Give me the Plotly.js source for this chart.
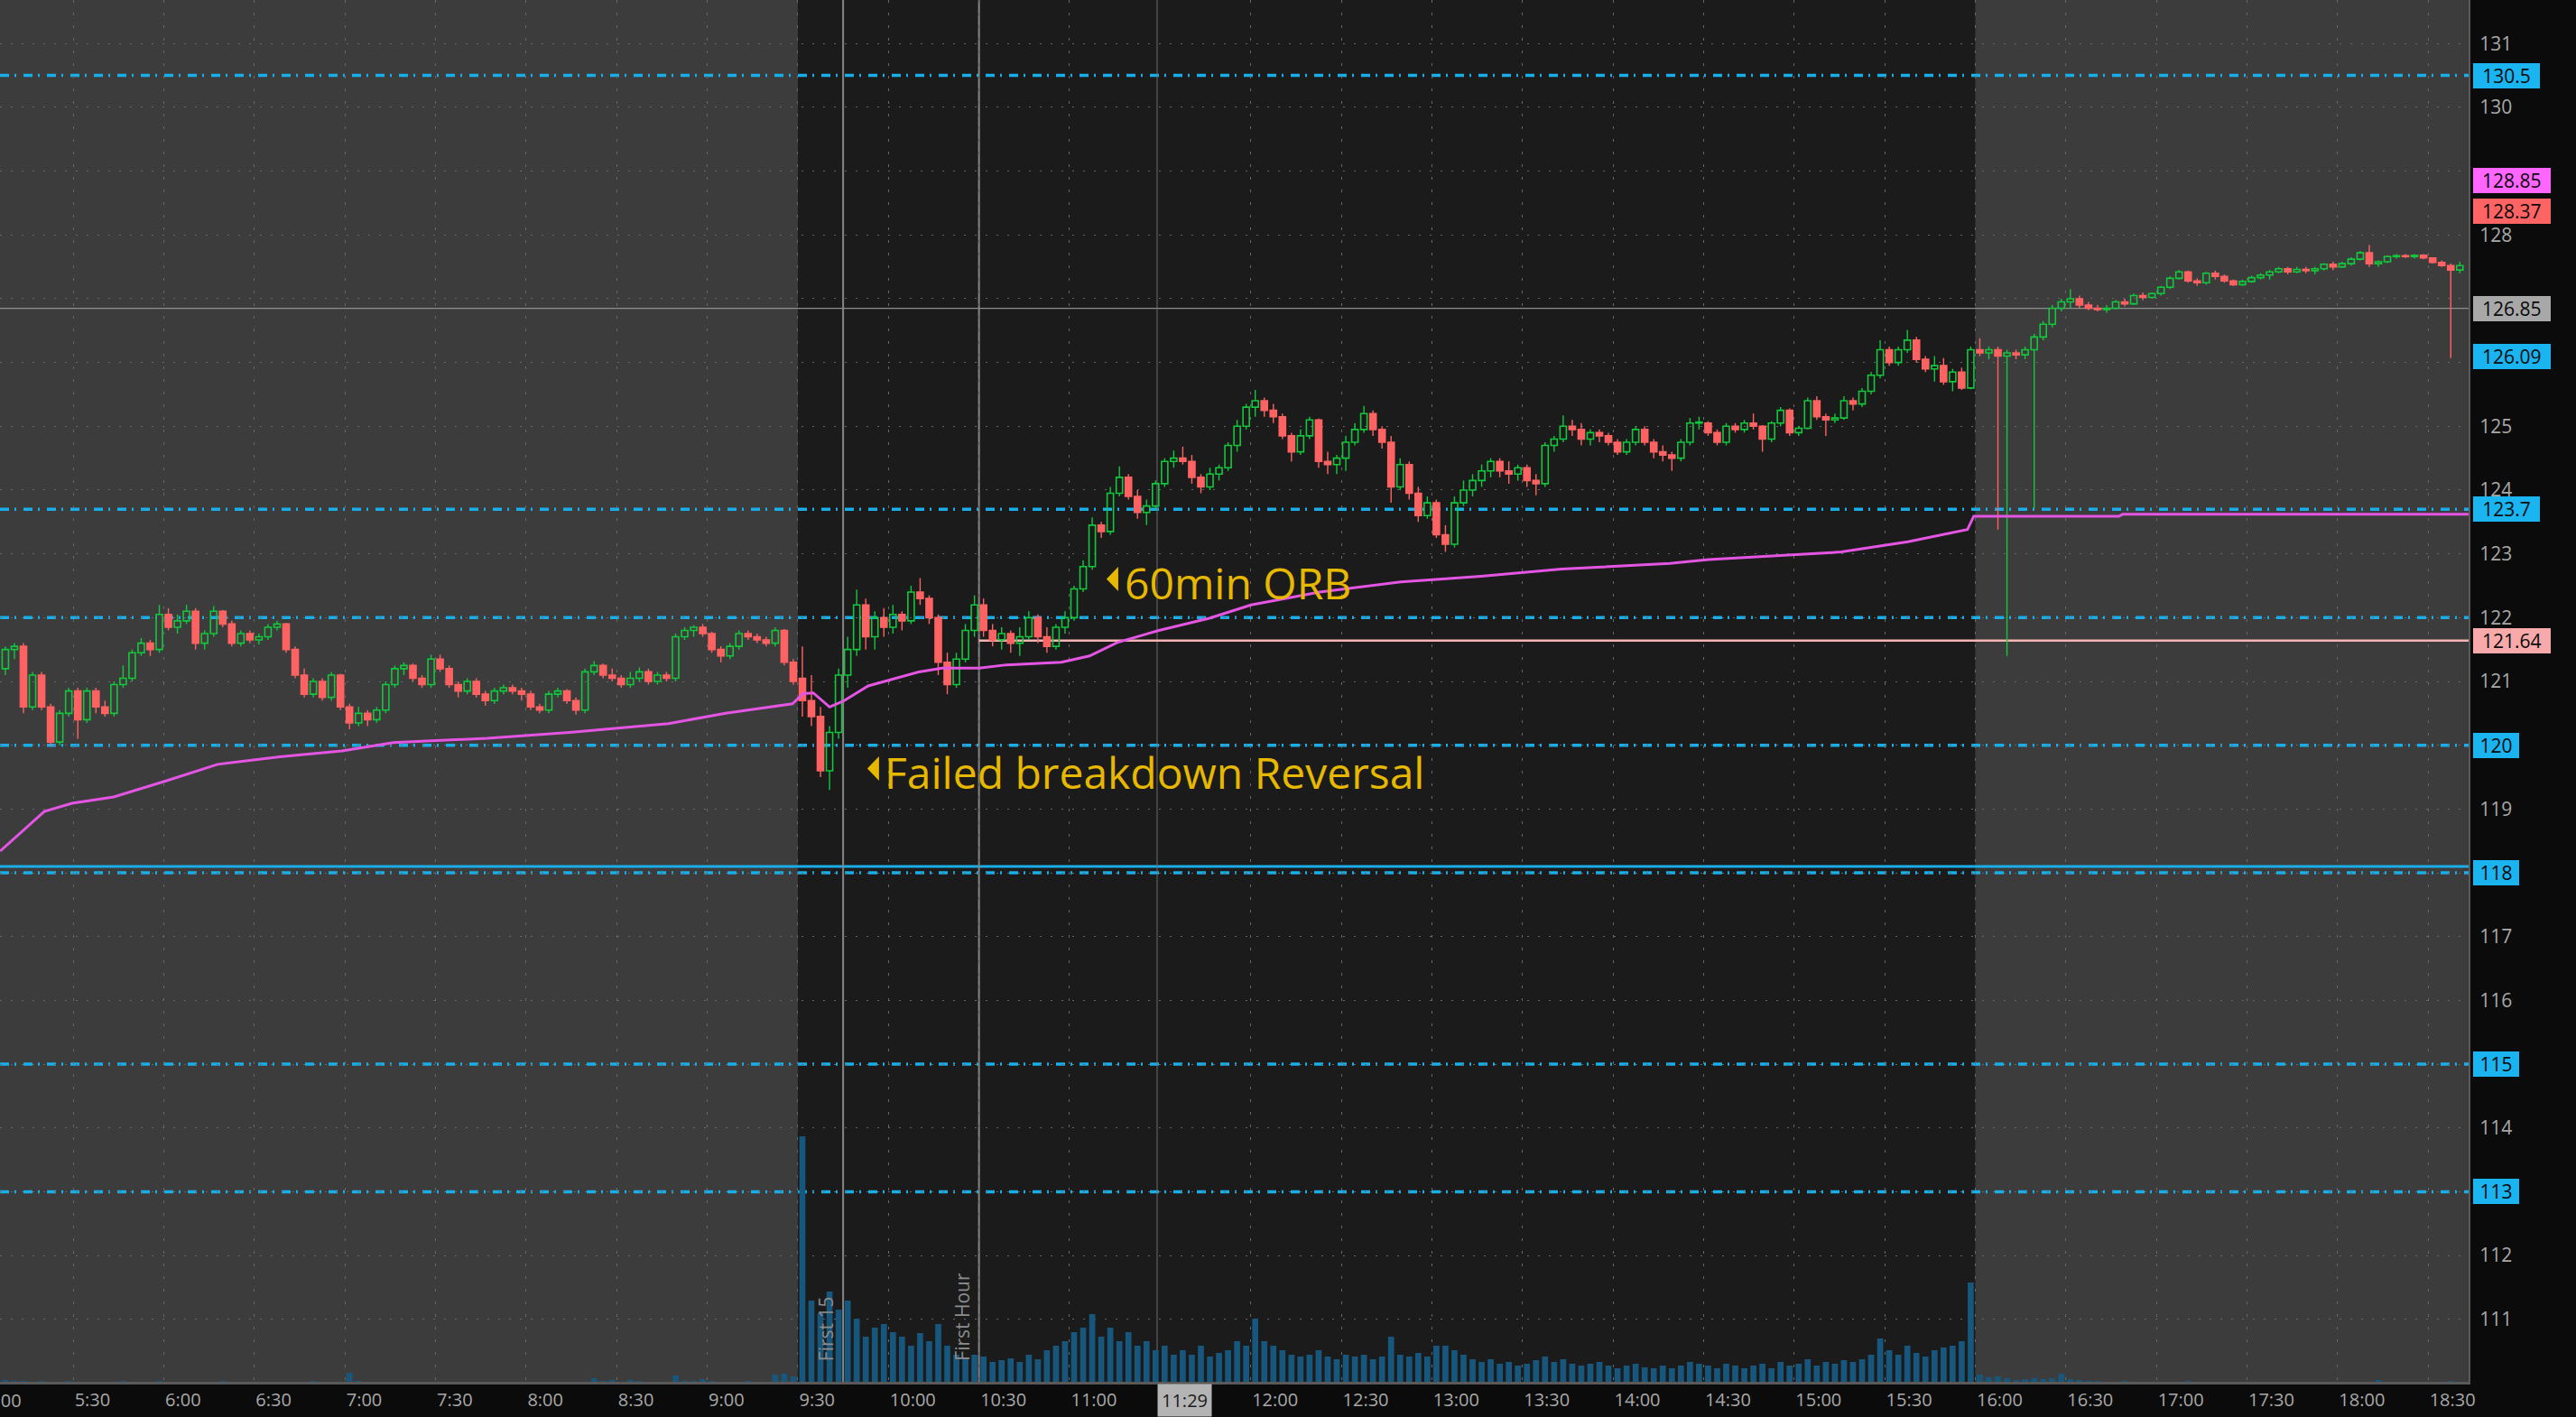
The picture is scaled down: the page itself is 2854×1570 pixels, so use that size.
<!DOCTYPE html>
<html><head><meta charset="utf-8">
<script src="https://cdn.plot.ly/plotly-3.0.1.min.js"></script>
<style>html,body{margin:0;padding:0;background:#0b0b0b;overflow:hidden}#chart{width:2854px;height:1570px}</style>
</head><body><div id="chart"></div>
<script>
// ---------- DATA (3-minute bars, times in minutes after midnight) ----------
const candleStart = 306;
const candleStep = 3;
const open = [
121.2,121.5,121.55,120.6,121.1,120.6,120.05,120.5,120.85,120.4,
120.85,120.6,120.5,120.95,121.05,121.45,121.6,121.5,122.05,121.85,
121.95,122.1,121.6,121.75,122.1,121.9,121.6,121.75,121.65,121.7,
121.85,121.9,121.5,121.1,120.8,121.0,120.75,121.1,120.6,120.35,
120.5,120.4,120.55,120.95,121.2,121.25,121.05,120.95,121.35,121.2,
120.95,120.85,121.0,120.8,120.7,120.85,120.9,120.85,120.8,120.6,
120.55,120.8,120.85,120.7,120.55,121.15,121.25,121.1,121.05,120.95,
121.05,121.15,121.0,121.1,121.05,121.7,121.8,121.85,121.75,121.5,
121.4,121.55,121.75,121.7,121.65,121.6,121.8,121.3,
121.05,120.7,120.45,119.6,120.2,121.1,121.5,122.2,121.7,122.0,
121.85,122.05,121.95,122.4,122.3,122.0,121.3,120.95,121.35,121.8,
122.2,121.8,121.65,121.75,121.6,121.7,122.0,121.7,121.55,121.85,
122.0,122.45,
122.8,123.45,123.35,123.95,124.2,123.9,123.65,123.75,124.1,124.45,
124.5,124.45,124.2,124.05,124.25,124.35,124.7,125.0,125.3,125.4,
125.25,125.15,124.85,124.6,124.85,125.1,124.45,124.4,124.5,124.75,
124.95,125.2,124.95,124.75,124.05,124.4,123.95,123.6,123.8,123.3,
123.15,123.8,124.0,124.15,124.3,124.45,124.3,124.25,124.35,124.15,
124.1,124.7,124.8,125.0,124.95,124.8,124.9,124.85,124.75,124.6,
124.75,124.95,124.75,124.6,
124.55,124.5,124.75,125.05,125.05,124.9,124.75,125.0,124.95,125.05,
125.0,124.8,125.05,125.25,124.9,124.97,125.4,125.15,125.1,125.13,
125.4,125.35,125.55,125.8,126.2,126.0,126.2,126.35,126.05,125.9,
125.95,125.7,125.85,125.6,
126.2,126.15,126.2,126.1,126.15,126.12,126.2,126.4,126.6,126.85,
126.95,127.0,126.9,126.85,126.83,126.85,126.95,126.92,127.05,127.02,
127.08,127.18,127.32,127.42,127.28,127.25,127.4,127.35,127.28,127.22,
127.27,127.33,127.37,127.42,127.47,127.42,127.46,127.44,127.47,127.54,
127.5,127.55,127.62,127.72,127.55,127.58,127.66,127.67,127.66,127.68,
127.64,127.57,127.52,127.45];
const high = [
121.55,121.6,121.6,121.15,121.15,120.65,120.55,120.9,120.9,120.9,
120.9,120.7,121.0,121.25,121.5,121.68,121.65,122.2,122.15,122.05,
122.2,122.15,121.8,122.18,122.12,121.95,121.8,121.8,121.75,121.9,
121.95,121.92,121.55,121.2,121.05,121.05,121.15,121.12,120.65,120.6,
120.55,120.6,121.0,121.25,121.3,121.28,121.1,121.42,121.42,121.25,
121.0,121.05,121.05,120.85,120.9,120.95,120.95,120.9,120.85,120.65,
120.85,120.9,120.88,120.75,121.2,121.32,121.28,121.2,121.1,121.15,
121.22,121.2,121.15,121.15,121.75,121.85,121.88,121.9,121.78,121.55,
121.6,121.8,121.8,121.75,121.7,121.85,121.82,121.35,
121.55,121.1,120.6,120.3,121.2,121.7,122.44,122.3,122.1,122.15,
122.2,122.1,122.5,122.62,122.35,122.05,121.45,121.45,121.9,122.35,
122.3,121.9,121.85,121.8,121.85,122.1,122.05,121.85,121.9,122.1,
122.5,122.9,
123.57,123.5,124.05,124.37,124.25,124.0,123.85,124.15,124.5,124.62,
124.68,124.55,124.25,124.35,124.4,124.75,125.1,125.35,125.57,125.45,
125.35,125.2,124.9,124.95,125.15,125.12,124.6,124.55,124.85,125.05,
125.32,125.25,125.0,124.85,124.5,124.45,124.05,123.9,123.85,123.45,
123.9,124.15,124.25,124.4,124.5,124.5,124.45,124.4,124.4,124.25,
124.75,124.85,125.17,125.1,125.05,124.95,124.95,124.9,124.8,124.8,
125.0,125.0,124.8,124.7,
124.6,124.8,125.13,125.15,125.08,124.95,125.05,125.05,125.1,125.2,
125.02,125.08,125.3,125.28,125.0,125.45,125.47,125.2,125.2,125.47,
125.45,125.6,125.85,126.35,126.25,126.25,126.51,126.4,126.1,126.1,
126.07,125.9,125.92,126.25,
126.38,126.25,126.25,126.2,126.2,126.25,126.45,126.65,126.9,127.0,
127.15,127.05,126.95,126.9,126.9,126.98,127.0,127.08,127.1,127.1,
127.2,127.35,127.45,127.44,127.32,127.42,127.44,127.38,127.3,127.3,
127.36,127.4,127.45,127.5,127.5,127.5,127.5,127.5,127.56,127.58,
127.58,127.65,127.75,127.84,127.6,127.68,127.7,127.7,127.7,127.7,
127.65,127.6,127.55,127.58];
const low = [
121.1,121.35,120.5,120.55,120.55,119.99,120.0,120.45,120.1,120.35,
120.5,120.45,120.45,120.9,121.0,121.4,121.4,121.45,121.8,121.75,
121.9,121.5,121.5,121.7,121.85,121.55,121.55,121.6,121.58,121.65,
121.8,121.45,121.05,120.75,120.75,120.7,120.7,120.55,120.25,120.3,
120.3,120.35,120.5,120.9,121.1,121.0,120.9,120.9,121.15,120.9,
120.75,120.8,120.75,120.62,120.65,120.8,120.8,120.7,120.55,120.5,
120.5,120.75,120.65,120.48,120.5,121.1,121.05,121.0,120.9,120.9,
121.0,120.95,120.95,121.0,121.0,121.65,121.7,121.7,121.45,121.3,
121.35,121.5,121.65,121.6,121.55,121.55,121.25,120.95,
120.45,120.3,119.5,119.3,120.1,120.9,121.4,121.5,121.5,121.7,
121.75,121.8,121.9,122.2,121.9,121.1,120.8,120.9,121.3,121.7,
121.7,121.55,121.5,121.45,121.4,121.65,121.6,121.45,121.5,121.75,
121.95,122.4,
122.75,123.25,123.3,123.9,123.85,123.55,123.45,123.7,124.05,124.35,
124.4,124.1,123.95,124.0,124.15,124.3,124.6,124.95,125.15,125.15,
125.05,124.8,124.45,124.55,124.8,124.35,124.25,124.25,124.3,124.7,
124.9,124.85,124.65,123.8,124.0,123.85,123.5,123.55,123.25,123.03,
123.1,123.75,123.9,124.05,124.2,124.2,124.1,124.15,124.05,123.92,
124.05,124.6,124.75,124.85,124.7,124.7,124.75,124.7,124.55,124.55,
124.7,124.7,124.5,124.45,
124.3,124.45,124.7,124.95,124.85,124.7,124.7,124.9,124.9,124.95,
124.6,124.75,125.0,124.85,124.85,124.95,125.1,124.85,125.05,125.1,
125.25,125.3,125.5,125.75,125.95,125.95,126.15,126.0,125.85,125.7,
125.65,125.55,125.57,125.58,
126.1,126.05,123.38,121.4,126.05,126.05,123.71,126.35,126.55,126.8,
126.85,126.85,126.82,126.8,126.78,126.83,126.88,126.9,126.98,127.0,
127.05,127.15,127.3,127.25,127.2,127.22,127.3,127.25,127.2,127.2,
127.25,127.3,127.3,127.4,127.38,127.4,127.4,127.38,127.44,127.45,
127.48,127.52,127.6,127.5,127.5,127.56,127.63,127.64,127.63,127.62,
127.55,127.5,126.07,127.4];
const close = [
121.5,121.55,120.6,121.1,120.6,120.05,120.5,120.85,120.4,120.85,
120.6,120.5,120.95,121.05,121.45,121.6,121.5,122.05,121.85,121.95,
122.1,121.6,121.75,122.1,121.9,121.6,121.75,121.65,121.7,121.85,
121.9,121.5,121.1,120.8,121.0,120.75,121.1,120.6,120.35,120.5,
120.4,120.55,120.95,121.2,121.25,121.05,120.95,121.35,121.2,120.95,
120.85,121.0,120.8,120.7,120.85,120.9,120.85,120.8,120.6,120.55,
120.8,120.85,120.7,120.55,121.15,121.25,121.1,121.05,120.95,121.05,
121.15,121.0,121.1,121.05,121.7,121.8,121.85,121.75,121.5,121.4,
121.55,121.75,121.7,121.65,121.6,121.8,121.3,121.0,
120.7,120.45,119.6,120.2,121.1,121.5,122.2,121.7,122.0,121.85,
122.05,121.95,122.4,122.3,122.0,121.3,120.95,121.35,121.8,122.2,
121.8,121.65,121.75,121.6,121.7,122.0,121.7,121.55,121.85,122.0,
122.45,122.8,
123.45,123.35,123.95,124.2,123.9,123.65,123.75,124.1,124.45,124.5,
124.45,124.2,124.05,124.25,124.35,124.7,125.0,125.3,125.4,125.25,
125.15,124.85,124.6,124.85,125.1,124.45,124.4,124.5,124.75,124.95,
125.2,124.95,124.75,124.05,124.4,123.95,123.6,123.8,123.3,123.15,
123.8,124.0,124.15,124.3,124.45,124.3,124.25,124.35,124.15,124.1,
124.7,124.8,125.0,124.95,124.8,124.9,124.85,124.75,124.6,124.75,
124.95,124.75,124.6,124.55,
124.5,124.75,125.05,125.05,124.9,124.75,125.0,124.95,125.05,125.0,
124.8,125.05,125.25,124.9,124.97,125.4,125.15,125.1,125.13,125.4,
125.35,125.55,125.8,126.2,126.0,126.2,126.35,126.05,125.9,125.95,
125.7,125.85,125.6,126.2,
126.15,126.2,126.1,126.15,126.12,126.2,126.4,126.6,126.85,126.95,
127.0,126.9,126.85,126.83,126.85,126.95,126.92,127.05,127.02,127.08,
127.18,127.32,127.42,127.28,127.25,127.4,127.35,127.28,127.22,127.27,
127.33,127.37,127.42,127.47,127.42,127.46,127.44,127.47,127.54,127.5,
127.55,127.62,127.72,127.55,127.58,127.66,127.67,127.66,127.68,127.64,
127.57,127.52,127.45,127.52];
const volume = [
2,1,1,0,1,0,0,1,0,0, 0,0,0,1,0,0,0,1,0,0, 0,0,0,0,1,0,0,0,0,0,
0,0,0,0,1,0,0,0,10,1, 0,0,0,0,0,0,0,0,0,0, 0,0,0,0,0,0,0,0,0,0,
0,0,0,0,0,4,1,2,0,2, 1,0,0,0,7,1,1,3,1,0, 0,0,1,0,0,8,9,6,
272,90,76,100,80,90,70,50,60,64, 55,50,40,54,45,64,40,30,26,30,
28,22,24,26,22,30,25,35,40,45, 55,60,
75,50,60,45,55,40,45,35,40,30, 35,30,40,28,32,35,45,40,70,45,
40,35,30,28,30,35,28,25,30,28, 30,25,28,50,30,28,32,28,40,40,
35,30,25,22,25,20,22,18,20,24, 28,22,25,20,18,20,22,18,15,18,
20,16,15,18,
15,18,22,20,18,15,20,18,15,18, 20,15,22,18,20,25,18,22,20,24,
22,25,30,48,35,30,40,32,28,35, 38,40,45,110,
8,5,6,4,2,3,4,3,4,9, 3,2,1,1,0,0,1,0,0,0, 0,0,0,1,0,0,0,0,0,0,
0,0,0,0,0,0,0,0,0,0, 0,0,0,0,2,0,0,0,0,0, 0,0,1,0];
const vwapTime = [305.8,320.4,329.6,343.4,360.7,377.8,398.4,419,436.1,467.2,494.4,527.2,546.1,568.2,
  571.8,575.1,580.5,585,593.3,610.1,617.8,630.1,639.1,657.3,666.6,675.8,689.6,706.3,720.1,742.8,
  769.7,796.3,822.9,858.8,871.6,915.6,937.7,957.4,959.5,1007.6,1008.8,1123.4];
const vwapValue = [118.34,118.96,119.09,119.19,119.44,119.70,119.82,119.91,120.04,120.11,120.20,120.34,120.50,120.65,
  120.81,120.82,120.60,120.69,120.93,121.15,121.21,121.21,121.26,121.30,121.40,121.61,121.80,121.99,122.20,122.40,
  122.56,122.65,122.76,122.85,122.91,123.03,123.19,123.38,123.59,123.59,123.62,123.62];
const timeLabels = ['5:30','6:00','6:30','7:00','7:30','8:00','8:30','9:00','9:30','10:00','10:30','11:00',
  '12:00','12:30','13:00','13:30','14:00','14:30','15:00','15:30','16:00','16:30','17:00','17:30','18:00','18:30'];
const priceTicks = [111,112,113,114,115,116,117,118,119,120,121,122,123,124,125,126,127,128,129,130,131];
const hiddenPriceTicks = [129,127,126];   // covered by price bubbles in the reference
const levelPrices = [130.5, 123.7, 122, 120, 118, 115, 113];
const supportPrice = 118.1;
const lastPrice = 126.85;
const orbPrice = 121.64;
const labelTexts = ['130.5','128.85','128.37','126.85','126.09','123.7','121.64','120','118','115','113'];
const labelPrices = [130.5,128.85,128.37,126.85,126.09,123.7,121.64,120,118,115,113];
const labelColors = ['#1ab4f0','#ff66ff','#ff6464','#a8a8a8','#1ab4f0','#1ab4f0','#f8aaaa','#1ab4f0','#1ab4f0','#1ab4f0','#1ab4f0'];
const sessionOpen = '9:30', sessionClose = '16:00', first15 = '9:45', firstHour = '10:30', cursorTime = '11:29';

// ---------- BUILD ----------
const UP = '#12c83c', DOWN = '#ff6262';
const toMin = s => { const p = s.split(':'); return (+p[0]) * 60 + (+p[1]); };
const xs = close.map((_, i) => candleStart + candleStep * i + candleStep / 2);
const isUp = close.map((c, i) => c >= open[i]);
const bodyTop = open.map((o, i) => Math.max(o, close[i]));
const bodyBot = open.map((o, i) => Math.min(o, close[i]));
const candleColors = isUp.map(u => u ? UP : DOWN);
const xRange = [305.73, 1123.4];
const yRange = [110.02, 131.683];

const traces = [
  { type: 'bar', x: xs, y: volume, yaxis: 'y2', width: 2.0, marker: { color: '#17577d', line: { width: 0 } }, hoverinfo: 'skip' },
  { type: 'scatter', mode: 'lines', x: vwapTime, y: vwapValue, line: { color: '#e455e4', width: 3 }, hoverinfo: 'skip' },
  // upper and lower wicks
  { type: 'bar', x: xs, base: bodyTop, y: high.map((h, i) => h - bodyTop[i]), width: 0.42,
    marker: { color: candleColors, line: { width: 0 } }, hoverinfo: 'skip' },
  { type: 'bar', x: xs, base: low, y: bodyBot.map((b, i) => b - low[i]), width: 0.42,
    marker: { color: candleColors, line: { width: 0 } }, hoverinfo: 'skip' },
  // bodies (hollow up, filled down)
  { type: 'bar', x: xs, base: bodyBot, y: bodyTop.map((t, i) => Math.max(t - bodyBot[i], 0.015)), width: 2.1,
    marker: { color: isUp.map(u => u ? 'rgba(0,0,0,0)' : DOWN), line: { color: candleColors, width: 1.6 } }, hoverinfo: 'skip' }
];

const shapes = [
  { type: 'rect', xref: 'x', yref: 'paper', x0: xRange[0], x1: toMin(sessionOpen), y0: 0, y1: 1, fillcolor: '#3c3c3c', line: { width: 0 }, layer: 'below' },
  { type: 'rect', xref: 'x', yref: 'paper', x0: toMin(sessionClose), x1: xRange[1], y0: 0, y1: 1, fillcolor: '#3c3c3c', line: { width: 0 }, layer: 'below' }
];
levelPrices.forEach(p => shapes.push({ type: 'line', xref: 'paper', yref: 'y', x0: 0, x1: 1, y0: p, y1: p,
  line: { color: '#1aaee8', width: 3.5, dash: '10px,6px,2px,8px' }, layer: 'between' }));
shapes.push({ type: 'line', xref: 'paper', yref: 'y', x0: 0, x1: 1, y0: supportPrice, y1: supportPrice, line: { color: '#1aaee8', width: 3 }, layer: 'between' });
shapes.push({ type: 'line', xref: 'paper', yref: 'y', x0: 0, x1: 1, y0: lastPrice, y1: lastPrice, line: { color: '#8e8e8e', width: 1.2 }, layer: 'between' });
shapes.push({ type: 'line', xref: 'x', yref: 'y', x0: toMin(firstHour), x1: xRange[1], y0: orbPrice, y1: orbPrice, line: { color: '#f6b4b4', width: 2.6 }, layer: 'between' });
[first15, firstHour].forEach(t => shapes.push({ type: 'line', xref: 'x', yref: 'paper', x0: toMin(t), x1: toMin(t), y0: 0, y1: 1, line: { color: '#858585', width: 2 }, layer: 'between' }));
shapes.push({ type: 'line', xref: 'x', yref: 'paper', x0: toMin(cursorTime), x1: toMin(cursorTime), y0: 0, y1: 1, line: { color: '#6e6e6e', width: 1 }, layer: 'between' });
// note markers (small left-pointing triangles)
[[593.0, 119.634], [672.24, 122.606]].forEach(a => shapes.push({ type: 'path', xref: 'x', yref: 'y', xsizemode: 'pixel', ysizemode: 'pixel',
  xanchor: a[0], yanchor: a[1], path: 'M0,0 L13,13.5 L13,-13.5 Z', fillcolor: '#e6b800', line: { width: 0 }, layer: 'above' }));

const annotations = [
  { xref: 'x', yref: 'y', x: 598.2, y: 119.58, xanchor: 'left', yanchor: 'middle', showarrow: false, text: 'Failed breakdown Reversal',
    font: { family: 'Open Sans', size: 48, color: '#e6b800' } },
  { xref: 'x', yref: 'y', x: 677.6, y: 122.55, xanchor: 'left', yanchor: 'middle', showarrow: false, text: '60min ORB',
    font: { family: 'Open Sans', size: 48, color: '#e6b800' } },
  { xref: 'x', yref: 'paper', x: toMin(first15), y: 0.0137, xanchor: 'right', yanchor: 'bottom', xshift: -3, showarrow: false, textangle: -90,
    text: 'First 15', font: { family: 'Open Sans', size: 21, color: '#8c8c8c' } },
  { xref: 'x', yref: 'paper', x: toMin(firstHour), y: 0.0137, xanchor: 'right', yanchor: 'bottom', xshift: -3, showarrow: false, textangle: -90,
    text: 'First Hour', font: { family: 'Open Sans', size: 21, color: '#8c8c8c' } },
  { xref: 'x', yref: 'paper', x: toMin(cursorTime), y: -0.0131, xanchor: 'left', yanchor: 'middle', showarrow: false, text: cursorTime,
    bgcolor: '#b4b4b4', borderpad: 4, font: { family: 'Open Sans', size: 20, color: '#1c1c1c' } },
  { xref: 'paper', yref: 'paper', x: -18 / 2735, y: -0.0131, xanchor: 'left', yanchor: 'middle', showarrow: false, text: '5:00',
    font: { family: 'Open Sans', size: 20, color: '#a8a8a8' } }
];
labelTexts.forEach((t, i) => annotations.push({ xref: 'paper', yref: 'y', x: 1, xshift: 5, y: labelPrices[i], xanchor: 'left', yanchor: 'middle',
  showarrow: false, text: t, bgcolor: labelColors[i], bordercolor: labelColors[i], borderwidth: 1, borderpad: 1,
  width: 11.6 * t.length + 12, height: 24, align: 'center', font: { family: 'Open Sans', size: 21, color: '#0a0a0a' } }));

const layout = {
  width: 2854, height: 1570,
  margin: { l: 0, r: 119, t: 0, b: 39, pad: 0 },
  paper_bgcolor: '#0b0b0b', plot_bgcolor: '#1b1b1b',
  showlegend: false, dragmode: false, barmode: 'overlay',
  xaxis: { range: xRange, tickvals: timeLabels.map(toMin), ticktext: timeLabels, ticklabelposition: 'outside right',
    showgrid: true, gridcolor: '#686868', griddash: '3px,11px', gridwidth: 1, zeroline: false,
    showline: true, linecolor: '#595959', linewidth: 3, ticks: '',
    tickfont: { family: 'Open Sans', size: 20, color: '#a8a8a8' }, fixedrange: true },
  yaxis: { range: yRange, side: 'right', tickvals: priceTicks,
    ticktext: priceTicks.map(v => hiddenPriceTicks.includes(v) ? '' : String(v)),
    showgrid: true, gridcolor: '#686868', griddash: '2px,10px', gridwidth: 1,
    zeroline: false, showline: true, linecolor: '#595959', linewidth: 2, ticks: '', ticklabelstandoff: 6,
    tickfont: { family: 'Open Sans', size: 21, color: '#a8a8a8' }, fixedrange: true },
  yaxis2: { overlaying: 'y', range: [0, 1531], visible: false, fixedrange: true },
  shapes: shapes, annotations: annotations
};
Plotly.newPlot('chart', traces, layout, { displayModeBar: false, staticPlot: true });
</script></body></html>
